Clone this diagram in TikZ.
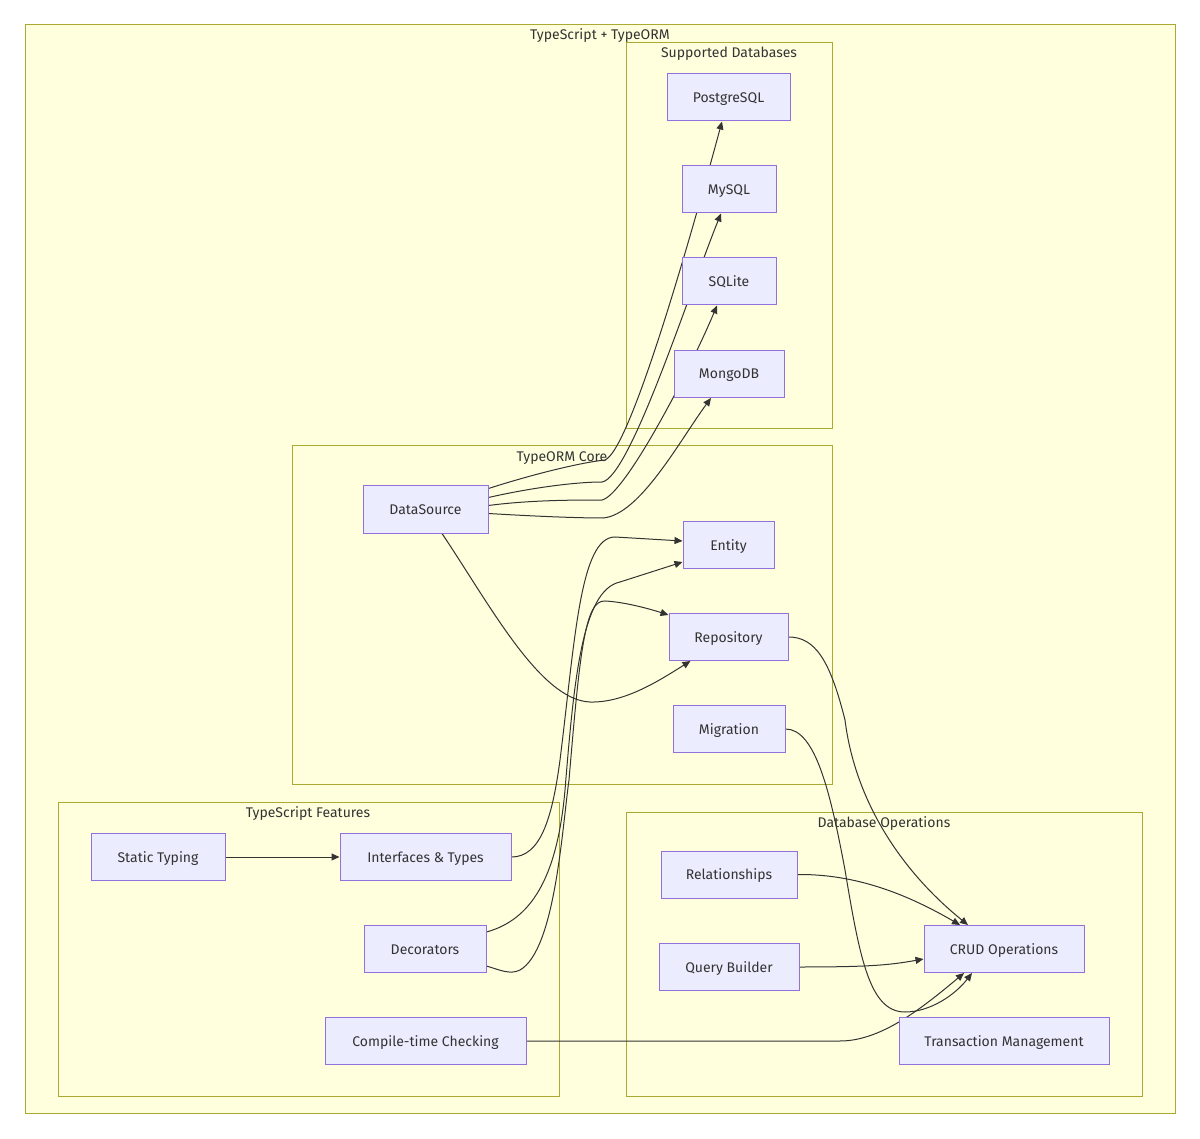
\documentclass[tikz,border=0pt]{standalone}
\usepackage{fontspec}
\setmainfont{Fira Sans}
\usetikzlibrary{arrows.meta,calc}
\definecolor{nodefill}{HTML}{ECECFF}
\definecolor{nodeline}{HTML}{9370DB}
\definecolor{clfill}{HTML}{FFFFDE}
\definecolor{clline}{HTML}{AAAA33}
\definecolor{txt}{HTML}{333333}
\pgfdeclarelayer{bg}
\pgfdeclarelayer{edgelayer}
\pgfsetlayers{bg,edgelayer,main}
\tikzset{
  box/.style={draw=nodeline, fill=nodefill, line width=1pt, text=txt, inner sep=0pt, text height=10pt, text depth=0pt, font=\fontsize{14}{16}\selectfont},
  cluster/.style={draw=clline, fill=clfill, line width=1pt},
  cltitle/.style={text=txt, inner sep=0pt, text height=10pt, text depth=0pt, font=\fontsize{14}{16}\selectfont},
  conn/.style={draw=txt, line width=1pt, -{Triangle[length=8pt,width=7pt]}},
}
\begin{document}
\begin{tikzpicture}[x=1pt,y=-1pt]
\useasboundingbox (0,0) rectangle (1200,1139);
\begin{pgfonlayer}{bg}
\draw[cluster] (25,25) rectangle (1175,1113);
\node[cltitle] (t0) at (600,35) {TypeScript + TypeORM};
\draw[cluster] (626,43) rectangle (832,429);
\node[cltitle] (t1) at (729,53) {Supported Databases};
\draw[cluster] (292,446) rectangle (832,784);
\node[cltitle] (t2) at (562,457) {TypeORM Core};
\draw[cluster] (58,802) rectangle (559,1096);
\node[cltitle] (t3) at (308,812) {TypeScript Features};
\draw[cluster] (626,812) rectangle (1142,1096);
\node[cltitle] (t4) at (884,822) {Database Operations};
\end{pgfonlayer}

\node[box, minimum width=123pt, minimum height=47pt] (pg) at (728.5,97.5) {PostgreSQL};
\node[box, minimum width=94pt, minimum height=47pt] (my) at (729,189.5) {MySQL};
\node[box, minimum width=94pt, minimum height=47pt] (sl) at (729,281.5) {SQLite};
\node[box, minimum width=110pt, minimum height=47pt] (mg) at (729,374) {MongoDB};
\node[box, minimum width=125pt, minimum height=47pt] (ds) at (425.5,509.5) {DataSource};
\node[box, minimum width=91pt, minimum height=47pt] (en) at (728.5,545) {Entity};
\node[box, minimum width=119pt, minimum height=47pt] (re) at (728.5,637) {Repository};
\node[box, minimum width=112pt, minimum height=47pt] (mi) at (729,729) {Migration};
\node[box, minimum width=134pt, minimum height=47pt] (st) at (158,857) {Static Typing};
\node[box, minimum width=171pt, minimum height=47pt] (it) at (425.5,857) {Interfaces \& Types};
\node[box, minimum width=122pt, minimum height=47pt] (de) at (425,949) {Decorators};
\node[box, minimum width=201pt, minimum height=47pt] (ct) at (425.5,1041) {Compile-time Checking};
\node[box, minimum width=136pt, minimum height=47pt] (rl) at (729,874.5) {Relationships};
\node[box, minimum width=140pt, minimum height=47pt] (qb) at (729,967) {Query Builder};
\node[box, minimum width=160pt, minimum height=47pt] (cr) at (1004,949) {CRUD Operations};
\node[box, minimum width=210pt, minimum height=47pt] (tm) at (1004,1041) {Transaction Management};

\begin{pgfonlayer}{edgelayer}
% DataSource -> databases
\draw[conn] ($(ds.east)+(0,-21)$) .. controls (540,472) and (585,462) .. (605,460)
  .. controls (630,450) and (690,240) .. ($(pg.south)+(-6.5,0)$);
\draw[conn] ($(ds.east)+(0,-12)$) .. controls (530,488) and (575,482) .. (602,482)
  .. controls (630,478) and (690,290) .. ($(my.south)+(-8,0)$);
\draw[conn] ($(ds.east)+(0,-4)$) .. controls (530,500) and (575,500) .. (602,500)
  .. controls (625,495) and (690,370) .. ($(sl.south)+(-12,0)$);
\draw[conn] ($(ds.east)+(0,4)$) .. controls (530,516) and (575,518) .. (603,518)
  .. controls (640,515) and (680,440) .. ($(mg.south)+(-18,0)$);
% DataSource -> Repository
\draw[conn] ($(ds.south)+(16.5,0)$) .. controls (490,605) and (540,700) .. (590,702)
  .. controls (625,703) and (660,680) .. ($(re.south)+(-38,0)$);
% Static Typing -> Interfaces
\draw[conn] (st.east) -- (it.west);
% Interfaces -> Entity
\draw[conn] (it.east) .. controls (540,857) and (552,820) .. (560,760)
  .. controls (575,640) and (580,537) .. (615,537) -- ($(en.west)+(0,-4)$);
% Decorators -> Entity
\draw[conn] ($(de.east)+(0,-17)$) .. controls (530,920) and (557,880) .. (565,790)
  .. controls (574,680) and (582,590) .. (620,582) -- ($(en.west)+(0,17)$);
% Decorators -> Repository
\draw[conn] ($(de.east)+(0,17)$) .. controls (500,970) and (510,975) .. (520,970)
  .. controls (555,950) and (562,830) .. (569,780)
  .. controls (580,650) and (585,600) .. (605,601)
  .. controls (625,602) and (650,609) .. ($(re.north west)+(0,2)$);
% Repository -> CRUD
\draw[conn] (re.east) .. controls (815,637) and (830,660) .. (845,720)
  .. controls (855,800) and (900,870) .. ($(cr.north)+(-36,0)$);
% Relationships -> CRUD
\draw[conn] (rl.east) .. controls (850,874) and (900,890) .. ($(cr.north)+(-44,0)$);
% Migration -> CRUD
\draw[conn] (mi.east) .. controls (815,729) and (830,790) .. (845,870)
  .. controls (860,960) and (870,1012) .. (905,1012)
  .. controls (930,1012) and (955,995) .. ($(cr.south)+(-32,0)$);
% Query Builder -> CRUD
\draw[conn] (qb.east) .. controls (870,967) and (890,965) .. ($(cr.west)+(0,10)$);
% Compile-time Checking -> CRUD
\draw[conn] (ct.east) -- (840,1041) .. controls (880,1041) and (920,1010) .. ($(cr.south)+(-40,0)$);
\end{pgfonlayer}
\end{tikzpicture}
\end{document}
